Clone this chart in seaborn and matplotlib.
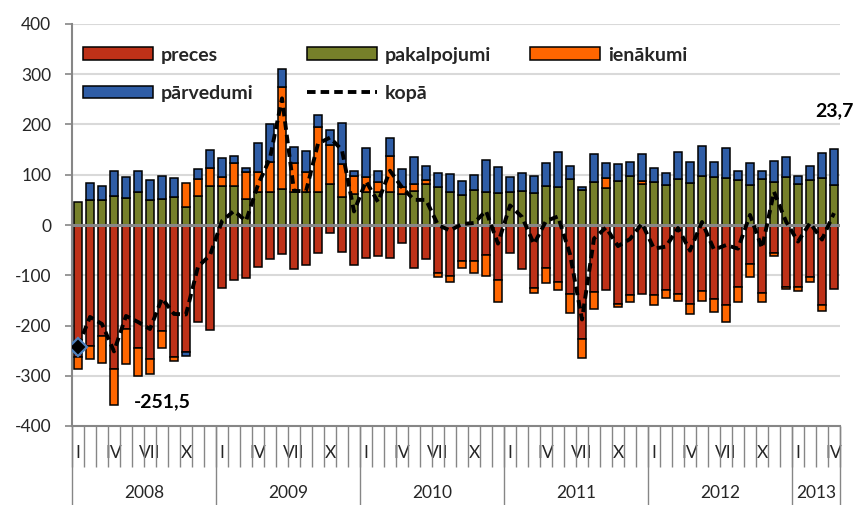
import numpy as np
import matplotlib
matplotlib.use("Agg")
import matplotlib.pyplot as plt
from matplotlib.patches import Patch
from matplotlib.lines import Line2D
import seaborn as sns

# mēneši 2008 I - 2013 IV
years = ["2008", "2009", "2010", "2011", "2012", "2013"]
months_per_year = [12, 12, 12, 12, 12, 4]
month_labels = ["I", "", "", "IV", "", "", "VII", "", "", "X", "", ""]

preces = [-262, -240, -221, -287, -206, -244, -267, -211, -262, -252, -194, -209,
          -125, -109, -106, -84, -68, -58, -88, -80, -56, -15, -53, -80,
          -66, -62, -66, -36, -85, -68, -95, -101, -72, -72, -60, -109,
          -56, -88, -125, -86, -113, -137, -226, -134, -129, -157, -139, -138,
          -139, -129, -137, -157, -131, -147, -159, -123, -78, -136, -55, -123,
          -124, -103, -159, -128]
pakalpojumi = [45, 50, 50, 58, 54, 65, 50, 51, 56, 36, 58, 78,
               78, 78, 51, 65, 66, 72, 65, 65, 65, 81, 56, 61,
               65, 65, 66, 61, 68, 81, 76, 65, 60, 70, 66, 64,
               66, 68, 64, 78, 75, 92, 70, 86, 74, 88, 97, 81,
               86, 80, 92, 84, 98, 96, 93, 90, 80, 91, 85, 95,
               81, 90, 94, 80]
ienakumi = [-25, -27, -54, -71, -71, -56, -30, -33, -9, 47, 33, 35,
            18, 45, 54, 40, 60, 202, 58, 40, 131, 78, 65, 37,
            31, 20, 72, 15, 13, 9, -8, -12, -14, -24, -41, -44,
            0, 0, -11, -29, -16, -39, -38, -34, 19, -6, -15, 7,
            -21, -17, -14, -20, -20, -27, -35, -31, -25, -17, -6, -5,
            -7, -11, -13, 0]
parvedumi = [0, 34, 28, 49, 42, 42, 40, 47, 38, -9, 20, 36,
             37, 14, 9, 59, 75, 36, 33, 42, 22, 30, 81, 9,
             57, 23, 36, 35, 54, 28, 27, 37, 28, 30, 63, 52,
             29, 36, 34, 45, 71, 26, 6, 55, 31, 33, 29, 53,
             27, 23, 53, 42, 59, 29, 61, 17, 43, 16, 42, 40,
             17, 28, 49, 72]
kopa = [-242, -183, -197, -251.5, -181, -193, -207, -146, -177, -178, -83, -60,
        8, 28, 8, 80, 133, 252, 68, 67, 162, 174, 149, 27,
        87, 46, 108, 75, 50, 50, 0, -11, 2, 4, 28, -37,
        39, 16, -38, 8, 17, -58, -188, -27, -5, -42, -28, 3,
        -47, -43, -6, -51, 6, -49, -40, -47, 20, -46, 66, 7,
        -33, 4, -29, 23.7]

series = [("preces", preces, "#BE3118"),
          ("pakalpojumi", pakalpojumi, "#76802A"),
          ("ienākumi", ienakumi, "#FF6600"),
          ("pārvedumi", parvedumi, "#2F5DA6")]

sns.set_theme(style="white")
plt.rcParams["font.family"] = ["Lato", "DejaVu Sans"]
plt.rcParams["axes.unicode_minus"] = False

GRAY = "#868686"

fig = plt.figure(figsize=(8.54, 5.05), dpi=100)
ax = fig.add_axes([72 / 854, 79 / 505, 768 / 854, 402 / 505])

n = len(preces)
x = np.arange(n)

# sakrauti stabiņi: pozitīvie uz augšu, negatīvie uz leju
pos_bottom = np.zeros(n)
neg_bottom = np.zeros(n)
for name, vals, col in series:
    v = np.array(vals, dtype=float)
    b = np.where(v >= 0, pos_bottom, neg_bottom)
    mask = v != 0
    ax.bar(x[mask], v[mask], bottom=b[mask], width=0.66, color=col,
           edgecolor="black", linewidth=1.1, zorder=3)
    pos_bottom += np.where(v > 0, v, 0)
    neg_bottom += np.where(v < 0, v, 0)

# nulles līnija
ax.axhline(0, color=GRAY, lw=2.2, zorder=4)

sns.lineplot(x=x, y=kopa, ax=ax, color="black", lw=2.8,
             linestyle=(0, (2.2, 1.3)), zorder=5)
ax.plot(x[0], kopa[0], marker="D", ms=9, mfc="black", mec="#4F81BD",
        mew=1.6, zorder=6, ls="none")

ax.annotate("-251,5", xy=(3, kopa[3]), xytext=(14, -36), textcoords="offset points",
            ha="left", va="center", fontsize=14, fontweight="bold", color="black")
ax.annotate("23,7", xy=(n - 1, kopa[-1]), xytext=(14, 74), textcoords="offset points",
            ha="right", va="center", fontsize=14, fontweight="bold", color="black",
            annotation_clip=False)

# y ass
ax.set_ylim(-400, 400)
yt = np.arange(-400, 401, 100)
ax.set_yticks(yt)
ax.set_yticklabels([str(t) for t in yt], fontsize=12.5)
ax.grid(False)
for t in yt:
    if t not in (0, -400):
        ax.axhline(t, color="#D9D9D9", lw=1.5, zorder=0)
ax.tick_params(axis="y", which="major", direction="out", length=5, width=1.2,
               color=GRAY, pad=10, left=True)

# x ass ar divu līmeņu kategorijām
ax.set_xlim(-0.5, n - 0.5)
labels = []
for m in months_per_year:
    labels += month_labels[:m]
ax.set_xticks(x)
ax.set_xticklabels(labels, fontsize=12.5)
ax.tick_params(axis="x", which="major", length=0, pad=14)
ax.set_xticks(np.arange(-0.5, n, 1), minor=True)
ax.tick_params(axis="x", which="minor", direction="out", length=29.5, width=1.0,
               color=GRAY, bottom=True)

start = 0
bounds = [-0.5]
for yr, m in zip(years, months_per_year):
    ax.text(start + (m - 1) / 2, -67 / 402, yr, transform=ax.get_xaxis_transform(),
            ha="center", va="center", fontsize=12.5)
    start += m
    bounds.append(start - 0.5)
ax.vlines(bounds, -79 / 402, 0, transform=ax.get_xaxis_transform(),
          color=GRAY, lw=1.0, clip_on=False)

for s in ["top", "right"]:
    ax.spines[s].set_visible(False)
for s in ["left", "bottom"]:
    ax.spines[s].set_color(GRAY)
    ax.spines[s].set_linewidth(1.5)

# leģenda - trīs kolonnas ar vienādu platumu
h = {name: Patch(facecolor=col, edgecolor="black", linewidth=1.1)
     for name, _, col in series}
h["kopā"] = Line2D([], [], color="black", lw=2.8, linestyle=(0, (2.2, 1.3)))
cols = [["preces", "pārvedumi"], ["pakalpojumi", "kopā"], ["ienākumi"]]
for i, (c, xa) in enumerate(zip(cols, [0.0143, 0.306, 0.596])):
    leg = ax.legend([h[k] for k in c], c, loc="upper left", bbox_to_anchor=(xa, 0.944),
                    frameon=False, borderaxespad=0, borderpad=0, handlelength=3.6,
                    handleheight=0.6, handletextpad=0.42, labelspacing=1.1,
                    prop={"size": 14, "weight": "bold"})
    if i < 2:
        ax.add_artist(leg)

fig.savefig("out.png", dpi=100)
